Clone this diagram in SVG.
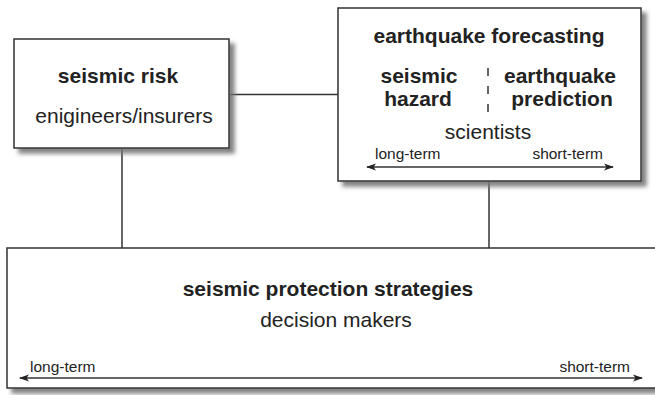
<svg xmlns="http://www.w3.org/2000/svg" width="655" height="395" viewBox="0 0 655 395">
<style>
.box{fill:#fff;stroke:#333;stroke-width:1.5;filter:url(#sh)}
.ln{stroke:#333;stroke-width:1.5;fill:none}
.arr{stroke:#333;stroke-width:1.3;fill:none;marker-start:url(#ah);marker-end:url(#ah)}
text{font-family:"Liberation Sans",Arial,sans-serif;fill:#222;text-anchor:middle}
.b{font-weight:bold;font-size:21px}
.r{font-size:21px}
.s{font-size:15.5px}
</style>
<defs>
<filter id="sh" x="-5%" y="-5%" width="115%" height="120%">
<feDropShadow dx="5" dy="5" stdDeviation="2" flood-color="#777" flood-opacity="0.9"/>
</filter>
<marker id="ah" viewBox="0 0 10 10" refX="9" refY="5" markerWidth="10" markerHeight="10" markerUnits="userSpaceOnUse" orient="auto-start-reverse">
<path d="M0,1.5 L10,5 L0,8.5 L2.5,5 Z" fill="#222"/>
</marker>
</defs>
<g id="connectors">
<line class="ln" x1="229" y1="94.5" x2="338" y2="94.5"/>
<line class="ln" x1="122" y1="148" x2="122" y2="248"/>
<line class="ln" x1="489" y1="167" x2="489" y2="248"/>
</g>
<g id="risk">
<rect class="box" x="14" y="39" width="215" height="109"/>
<text class="b" x="118" y="83">seismic risk</text>
<text class="r" x="124" y="123">enigineers/insurers</text>
</g>
<g id="forecasting">
<rect class="box" x="338" y="8" width="303" height="173"/>
<text class="b" x="489" y="43">earthquake forecasting</text>
<text class="b" x="419" y="83">seismic</text>
<text class="b" x="418" y="106">hazard</text>
<text class="b" x="560" y="83">earthquake</text>
<text class="b" x="562" y="106">prediction</text>
<line class="ln" x1="488" y1="68" x2="488" y2="115" stroke-dasharray="8 10"/>
<text class="r" x="488" y="139">scientists</text>
<text class="s" x="375" y="159" style="text-anchor:start">long-term</text>
<text class="s" x="603" y="159" style="text-anchor:end">short-term</text>
<line class="arr" x1="367" y1="167" x2="613" y2="167"/>
</g>
<g id="protection">
<rect class="box" x="7" y="248" width="660" height="140"/>
<text class="b" x="328" y="296">seismic protection strategies</text>
<text class="r" x="336" y="327">decision makers</text>
<text class="s" x="30" y="372" style="text-anchor:start">long-term</text>
<text class="s" x="630" y="372" style="text-anchor:end">short-term</text>
<line class="arr" x1="20" y1="378" x2="642" y2="378"/>
</g>
</svg>
